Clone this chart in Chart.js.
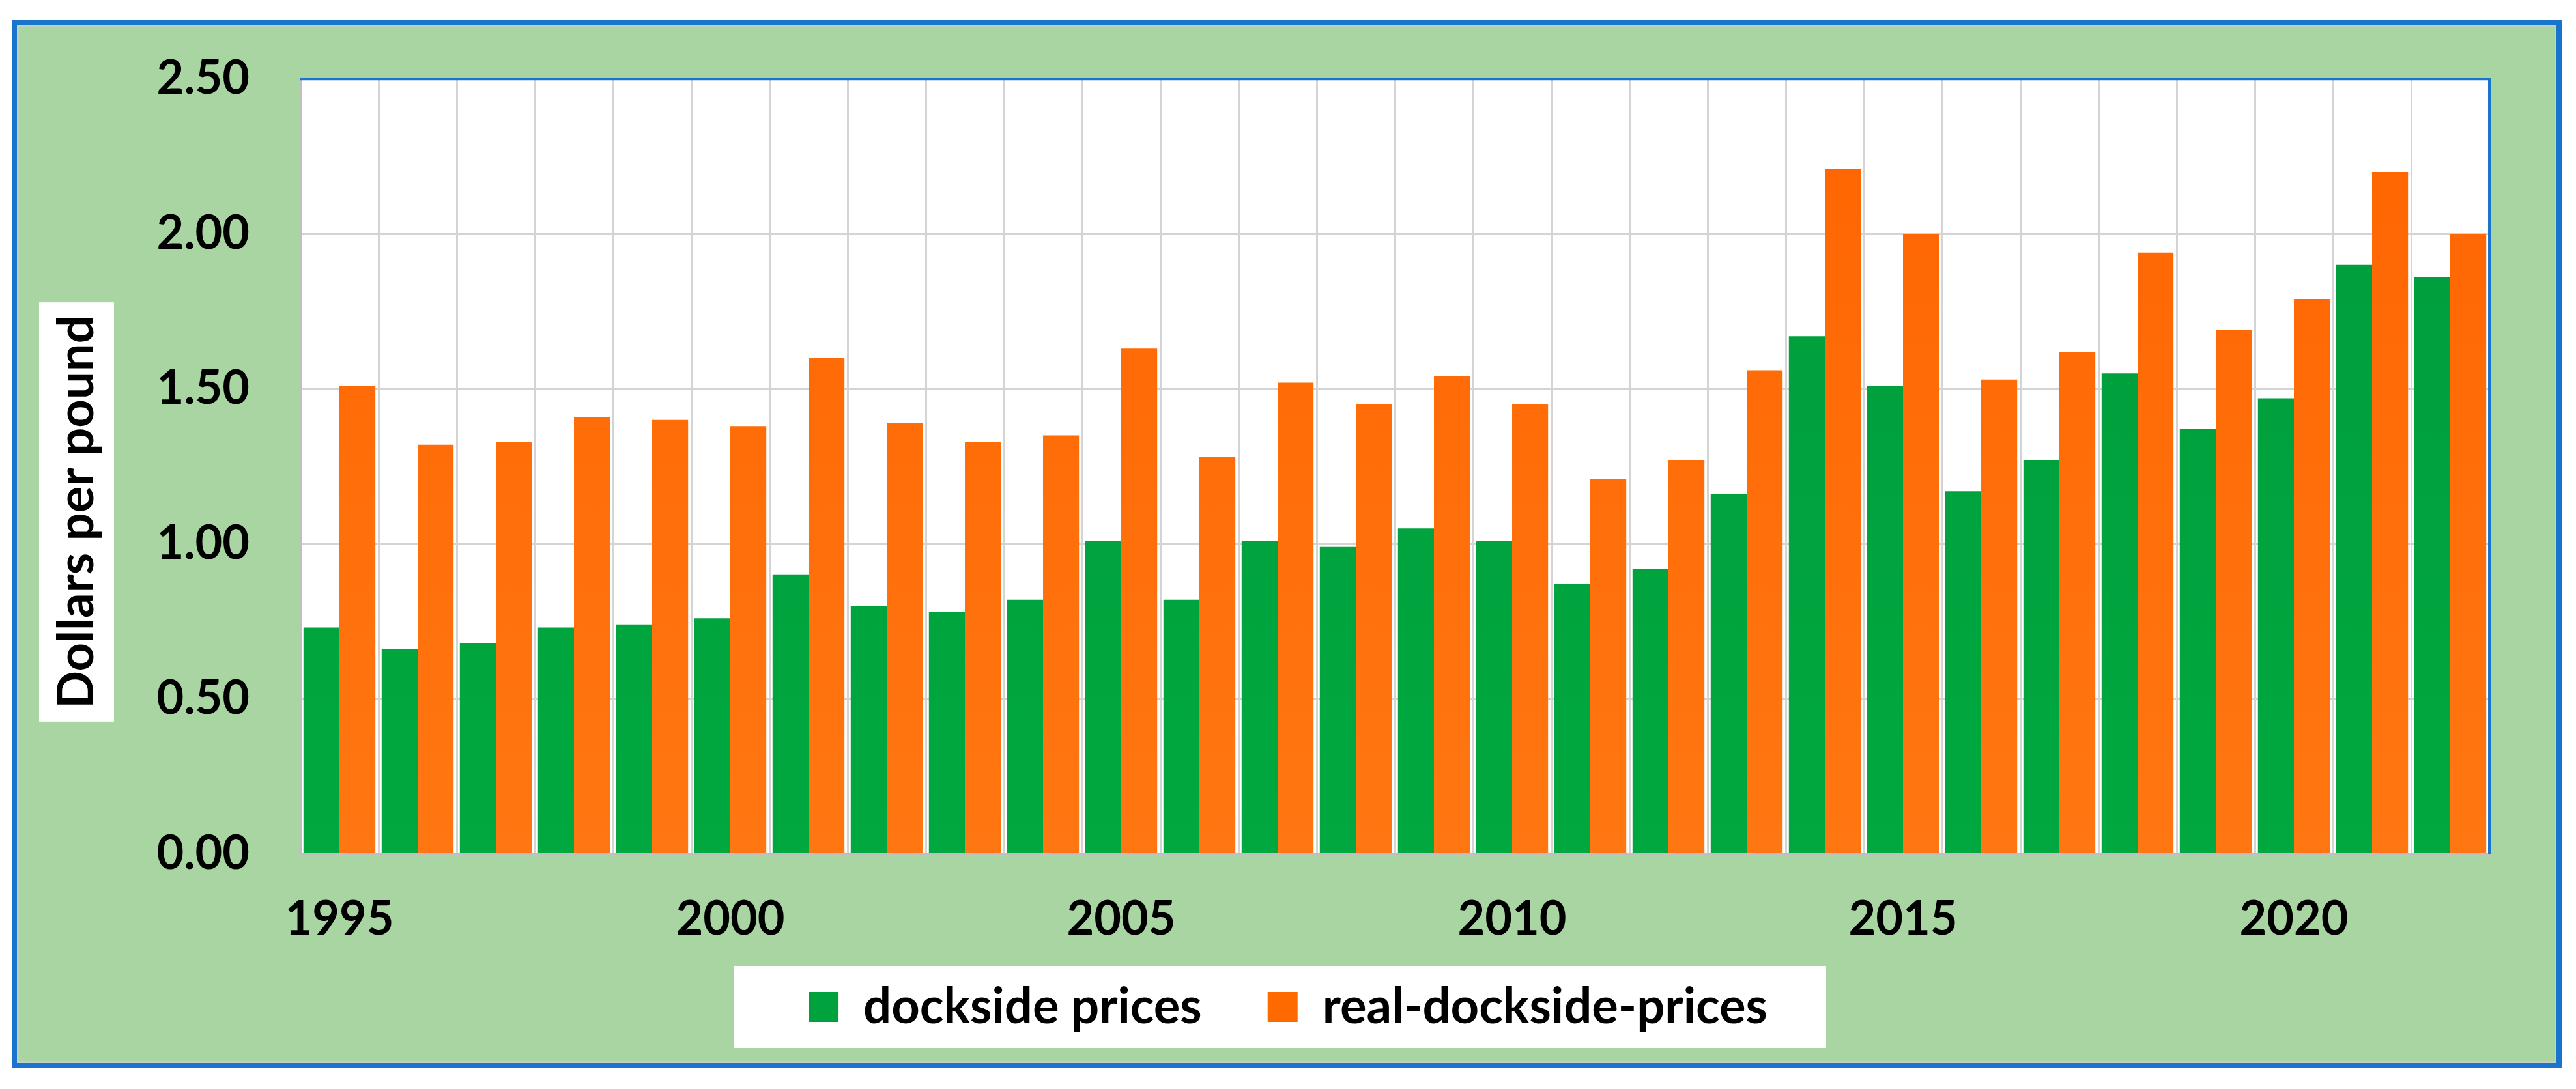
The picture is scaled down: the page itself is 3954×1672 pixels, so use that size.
<!DOCTYPE html>
<html>
<head>
<meta charset="utf-8">
<script src="https://cdn.jsdelivr.net/npm/chart.js@4.4.1/dist/chart.umd.min.js"></script>
<style>
  html, body { margin: 0; padding: 0; background: #ffffff; overflow: hidden; }
  canvas { display: block; }
</style>
</head>
<body>
<canvas id="priceChart" width="3954" height="1672" style="width:3954px;height:1672px"></canvas>
<script>
// Years on the category axis
const years = ['1995', '1996', '1997', '1998', '1999', '2000', '2001', '2002', '2003', '2004',
               '2005', '2006', '2007', '2008', '2009', '2010', '2011', '2012', '2013', '2014',
               '2015', '2016', '2017', '2018', '2019', '2020', '2021', '2022'];

// Only these years get a tick label
const labelledYears = ['1995', '2000', '2005', '2010', '2015', '2020'];

// Dollars per pound
const docksidePrices = [0.73, 0.66, 0.68, 0.73, 0.74, 0.76, 0.90, 0.80, 0.78, 0.82,
                        1.01, 0.82, 1.01, 0.99, 1.05, 1.01, 0.87, 0.92, 1.16, 1.67,
                        1.51, 1.17, 1.27, 1.55, 1.37, 1.47, 1.90, 1.86];
const realDocksidePrices = [1.51, 1.32, 1.33, 1.41, 1.40, 1.38, 1.60, 1.39, 1.33, 1.35,
                            1.63, 1.28, 1.52, 1.45, 1.54, 1.45, 1.21, 1.27, 1.56, 2.21,
                            2.00, 1.53, 1.62, 1.94, 1.69, 1.79, 2.20, 2.00];

const yTicks = [0, 0.5, 1.0, 1.5, 2.0, 2.5];

const GREEN = '#00A23E';
const ORANGE = '#FF6A00';
const PANEL = '#A9D5A2';
const BLUE = '#1874CD';
const FONT = 'Lato, "Open Sans", sans-serif';

// vertical shading like the original bars
function barFill(top, bottom) {
    return function(context) {
        const chart = context.chart;
        const area = chart.chartArea;
        if (!area) return top;
        const g = chart.ctx.createLinearGradient(0, area.top, 0, area.bottom);
        g.addColorStop(0, top);
        g.addColorStop(1, bottom);
        return g;
    };
}

// Panel, border, white boxes, rotated axis title
const framePlugin = {
    id: 'frame',
    beforeDraw(chart) {
        const ctx = chart.ctx;
        const area = chart.chartArea;
        ctx.save();
        ctx.fillStyle = '#ffffff';
        ctx.fillRect(0, 0, chart.width, chart.height);

        // green panel with blue outline
        ctx.fillStyle = PANEL;
        ctx.fillRect(22, 34, 3906, 1602);
        ctx.strokeStyle = '#c9cfc8';
        ctx.lineWidth = 3;
        ctx.strokeRect(27, 39, 3896, 1592);
        ctx.strokeStyle = BLUE;
        ctx.lineWidth = 8;
        ctx.strokeRect(22, 34, 3906, 1602);

        // plot area
        ctx.fillStyle = '#ffffff';
        ctx.fillRect(area.left, area.top, area.right - area.left, area.bottom - area.top);

        // legend box
        const hb = chart.legend.legendHitBoxes;
        if (hb && hb.length) {
            const first = hb[0];
            const last = hb[hb.length - 1];
            const midY = first.top + first.height / 2;
            const x0 = first.left - 115;
            const x1 = last.left + last.width + 90;
            ctx.fillStyle = '#ffffff';
            ctx.fillRect(x0, midY - 63, x1 - x0, 126);
        }

        // y axis title
        const title = 'Dollars per pound';
        ctx.font = 'bold 76px ' + FONT;
        const w = ctx.measureText(title).width;
        const cx = 118, cy = 786;
        ctx.fillStyle = '#ffffff';
        ctx.fillRect(60, cy - w / 2 - 20, 115, w + 40);
        ctx.translate(cx, cy);
        ctx.rotate(-Math.PI / 2);
        ctx.fillStyle = '#000000';
        ctx.textAlign = 'center';
        ctx.textBaseline = 'middle';
        ctx.fillText(title, 0, 0);
        ctx.restore();
    },
    afterDatasetsDraw(chart) {
        const ctx = chart.ctx;
        const area = chart.chartArea;
        ctx.save();
        ctx.strokeStyle = BLUE;
        ctx.lineWidth = 4;
        ctx.beginPath();
        ctx.moveTo(area.left, area.top);
        ctx.lineTo(area.right, area.top);
        ctx.lineTo(area.right, area.bottom);
        ctx.stroke();
        ctx.restore();
    }
};

new Chart(document.getElementById('priceChart'), {
    type: 'bar',
    data: {
        labels: years,
        datasets: [{
            label: 'dockside prices',
            data: docksidePrices,
            backgroundColor: barFill('#009C3C', '#00A83F'),
            borderWidth: 0
        }, {
            label: 'real-dockside-prices',
            data: realDocksidePrices,
            backgroundColor: barFill('#FF6400', '#FF7712'),
            borderWidth: 0
        }]
    },
    options: {
        responsive: false,
        devicePixelRatio: 1,
        animation: false,
        datasets: {
            bar: {
                categoryPercentage: 0.92,
                barPercentage: 1.0
            }
        },
        layout: {
            padding: { left: 133, top: 106, right: 133, bottom: 78 }
        },
        plugins: {
            legend: {
                position: 'bottom',
                labels: {
                    boxWidth: 46,
                    boxHeight: 46,
                    padding: 101,
                    color: '#000000',
                    font: { family: FONT, size: 76, weight: 'bold' },
                    generateLabels: function(chart) {
                        return chart.data.datasets.map((ds, i) => ({
                            text: ds.label,
                            fillStyle: i === 0 ? GREEN : ORANGE,
                            strokeStyle: i === 0 ? GREEN : ORANGE,
                            lineWidth: 0,
                            hidden: false,
                            datasetIndex: i
                        }));
                    }
                }
            },
            tooltip: { enabled: false }
        },
        scales: {
            x: {
                afterFit: function(scale) { scale.height = 96; },
                grid: {
                    offset: true,
                    color: '#D4D4D4',
                    lineWidth: 3,
                    drawTicks: false
                },
                border: { color: '#BFBFBF', width: 3 },
                ticks: {
                    autoSkip: false,
                    maxRotation: 0,
                    // mirror keeps the labels from being clipped to the short axis box
                    mirror: true,
                    padding: -144,
                    color: '#000000',
                    font: { family: FONT, size: 72, weight: 'bold' },
                    callback: function(value) {
                        const y = this.getLabelForValue(value);
                        return labelledYears.includes(y) ? y : '';
                    }
                }
            },
            y: {
                min: 0,
                max: 2.5,
                afterFit: function(scale) { scale.width = 328; },
                afterBuildTicks: function(scale) {
                    scale.ticks = yTicks.map(v => ({ value: v }));
                },
                grid: {
                    color: '#D4D4D4',
                    lineWidth: 3,
                    drawTicks: false
                },
                border: { color: '#BFBFBF', width: 3 },
                ticks: {
                    padding: 78,
                    color: '#000000',
                    font: { family: FONT, size: 72, weight: 'bold' },
                    callback: function(value) { return value.toFixed(2); }
                }
            }
        }
    },
    plugins: [framePlugin]
});
</script>
</body>
</html>
